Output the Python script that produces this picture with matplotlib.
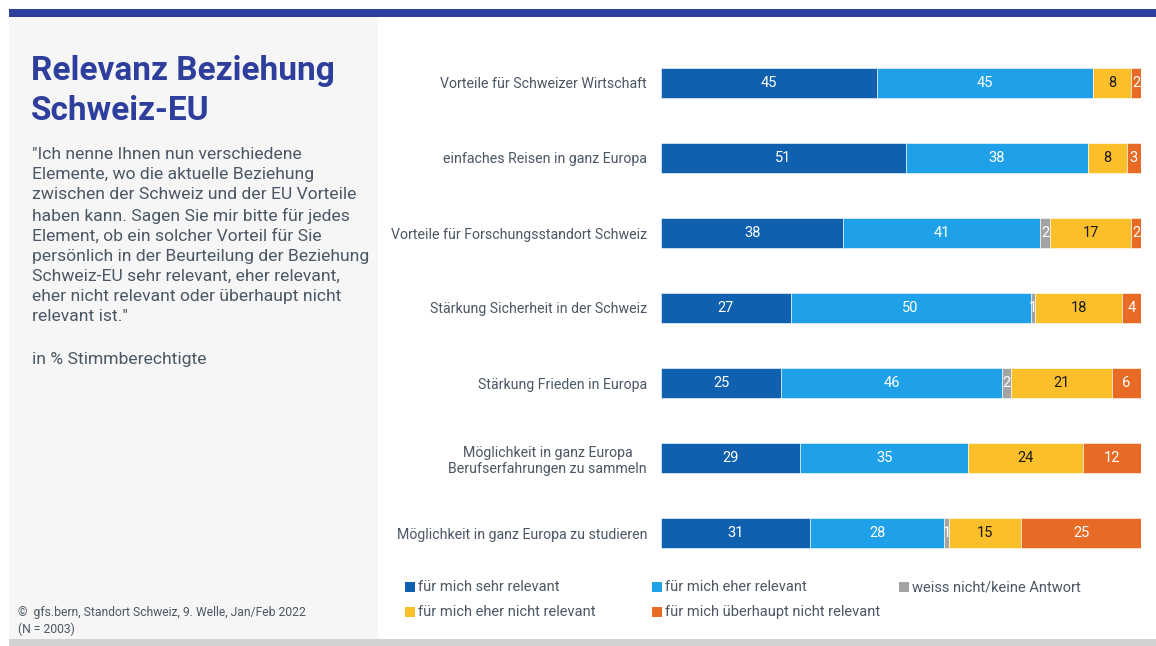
"""Relevanz Beziehung Schweiz-EU -- stacked horizontal bars (gfs.bern layout)."""
import matplotlib
matplotlib.use("Agg")
import matplotlib.pyplot as plt
from matplotlib.patches import Rectangle
import numpy as np

plt.rcParams["font.family"] = ["Roboto", "DejaVu Sans"]

ITEMS = [
    "Vorteile für Schweizer Wirtschaft",
    "einfaches Reisen in ganz Europa",
    "Vorteile für Forschungsstandort Schweiz",
    "Stärkung Sicherheit in der Schweiz",
    "Stärkung Frieden in Europa",
    "Möglichkeit in ganz Europa\nBerufserfahrungen zu sammeln",
    "Möglichkeit in ganz Europa zu studieren",
]
SEHR = [45, 51, 38, 27, 25, 29, 31]
EHER = [45, 38, 41, 50, 46, 35, 28]
WEISS = [0, 0, 2, 1, 2, 0, 1]
EHER_NICHT = [8, 8, 17, 18, 21, 24, 15]
GAR_NICHT = [2, 3, 2, 4, 6, 12, 25]

CATS = ["für mich sehr relevant", "für mich eher relevant", "weiss nicht/keine Antwort",
        "für mich eher nicht relevant", "für mich überhaupt nicht relevant"]
COLORS = ["#1060b0", "#1fa1e9", "#a3a3a3", "#fbbf2b", "#e86b25"]
TXT_COL = ["white", "white", "white", "#1a1a1a", "white"]

W, H = 1156, 646
NAVY = "#2e3e9c"
GREYTXT = "#4b5764"


def px(x, y):
    """pixel (from top-left) -> figure fraction"""
    return x / W, 1 - y / H


def box(fig, x0, y0, x1, y1, color):
    fx, fy = px(x0, y1)
    fig.add_artist(Rectangle((fx, fy), (x1 - x0) / W, (y1 - y0) / H, transform=fig.transFigure,
                             facecolor=color, edgecolor="none", zorder=0))


fig = plt.figure(figsize=(W / 100, H / 100), dpi=100)
fig.patch.set_facecolor("white")

# frame pieces
box(fig, 9, 9, W, 17, NAVY)
box(fig, 9, 17, 378, 639, "#f6f6f6")
box(fig, 9, 639, W, H, "#d2d2d2")

# left panel text
fig.text(*px(31, 55), "Relevanz Beziehung\nSchweiz-EU", color=NAVY, fontsize=24, fontweight="bold",
         va="top", ha="left", linespacing=1.33)
body = ('"Ich nenne Ihnen nun verschiedene\nElemente, wo die aktuelle Beziehung\n'
        'zwischen der Schweiz und der EU Vorteile\nhaben kann. Sagen Sie mir bitte für jedes\n'
        'Element, ob ein solcher Vorteil für Sie\npersönlich in der Beurteilung der Beziehung\n'
        'Schweiz-EU sehr relevant, eher relevant,\neher nicht relevant oder überhaupt nicht\n'
        'relevant ist."')
fig.text(*px(32, 147), body, color=GREYTXT, fontsize=12.6, va="top", ha="left", linespacing=1.42)
fig.text(*px(32, 352), "in % Stimmberechtigte", color=GREYTXT, fontsize=12.6, va="top", ha="left")
fig.text(*px(18, 606), "©  gfs.bern, Standort Schweiz, 9. Welle, Jan/Feb 2022\n(N = 2003)",
         color=GREYTXT, fontsize=8.7, va="top", ha="left", linespacing=1.35)

# bars
ax = fig.add_axes([661 / W, 1 - 570.5 / H, 480 / W, 525 / H])
y = np.arange(len(ITEMS))
left = np.zeros(len(ITEMS))
for vals, col, tc in zip([SEHR, EHER, WEISS, EHER_NICHT, GAR_NICHT], COLORS, TXT_COL):
    vals = np.array(vals, dtype=float)
    ax.barh(y, vals, left=left, height=0.4, color=col, edgecolor="white", linewidth=0.4)
    for yi, l, v in zip(y, left, vals):
        if v > 0:
            ax.text(l + v / 2, yi, f"{v:.0f}", ha="center", va="center", color=tc, fontsize=10.5)
    left += vals
ax.set_xlim(0, 100)
ax.set_ylim(len(ITEMS) - 0.5, -0.5)
ax.set_yticks(y)
ax.set_yticklabels(ITEMS, fontsize=10.15, color=GREYTXT, multialignment="center")
ax.tick_params(axis="y", length=0, pad=10)
ax.set_xticks([])
for s in ax.spines.values():
    s.set_visible(False)
ax.patch.set_alpha(0)

# legend (3 columns, row-wise)
leg_pos = [(405, 587), (652, 587), (899, 587), (405, 612), (652, 612)]
for (lx, ly), lab, col in zip(leg_pos, CATS, COLORS):
    box(fig, lx, ly - 5, lx + 10, ly + 5, col)
    fig.text(*px(lx + 13, ly), lab, color=GREYTXT, fontsize=10.5, va="center", ha="left")

fig.savefig("out.png", dpi=100)
